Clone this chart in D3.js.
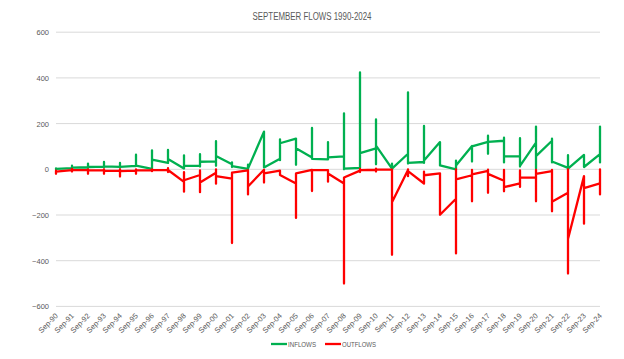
<!DOCTYPE html>
<html><head><meta charset="utf-8">
<script src="https://cdn.jsdelivr.net/npm/d3@7"></script>
<style>body{margin:0;background:#fff}svg{display:block}</style>
</head><body>
<svg id="c" width="624" height="359"></svg>
<script>
const chartTitle = "SEPTEMBER FLOWS 1990-2024";
const categories = ["Sep-90","Sep-91","Sep-92","Sep-93","Sep-94","Sep-95","Sep-96","Sep-97","Sep-98","Sep-99",
  "Sep-00","Sep-01","Sep-02","Sep-03","Sep-04","Sep-05","Sep-06","Sep-07","Sep-08","Sep-09",
  "Sep-10","Sep-11","Sep-12","Sep-13","Sep-14","Sep-15","Sep-16","Sep-17","Sep-18","Sep-19",
  "Sep-20","Sep-21","Sep-22","Sep-23","Sep-24"];
// readings within each September, in drawing order (all share the month's position)
const inflows = [
  [0,4,2],[5,16,4,7],[9,25,6,10],[12,32,8,13],[11,28,7,11],[15,64,14,16],[2,83,2,42],[28,85,28,45],
  [4,61,3,15],[15,66,12,33],[35,123,15,58],[22,30,10,14],[2,20,0,3],[165,8,8],[46,131,40,114],
  [134,20,92],[52,181,46,46],[43,119,43,52],[57,245,0,3],[6,424,6,71],[92,218,22,104],[3,25,-2,3],
  [68,337,25,28],[32,190,28,39],[119,17,17],[0,38,0,17],[102,34,100],[120,147,68,120],[125,138,30,57],
  [57,136,12,15],[117,187,4,58],[125,134,30,34],[6,62,0,3],[63,10,10],[66,187,30,66]
];
const outflows = [
  [-12,-6,-20,-10],[-4,2,-10,-4],[-4,0,-20,-5],[-5,0,-20,-6],[-7,0,-32,-8],[-6,0,-20,-5],[-5,0,-8,-4],
  [-3,5,-12,-3],[-55,-12,-98,-48],[-25,-5,-100,-58],[-15,0,-63,-30],[-41,-323,-15],[-5,-110,-75],
  [-2,-58,-18],[-6,-25,-25],[-62,-213,-18],[-3,-95,-4],[-4,-54,-18],[-62,-500,-36],[-6,2,-12,-4],
  [-2,3,-10,-1],[-1,-374,-144],[-3,0,-30,-8],[-62,-10,-62,-26],[-18,-199,-199],[-129,0,-368,-44],
  [-26,-3,-140,-22],[-7,-2,-103,-20],[-50,-3,-96,-78],[-62,-5,-77,-36],[-36,-3,-140,-20],
  [-8,-3,-184,-142],[-103,0,-456,-305],[-30,-238,-82],[-62,0,-110,-60]
];
const yTicks = [-600,-400,-200,0,200,400,600];
const seriesNames = ["INFLOWS","OUTFLOWS"];
const seriesColors = ["#00B050","#FF0000"];

const svg = d3.select("#c");
const x = d3.scalePoint().domain(categories).range([56,600]);
const y = d3.scaleLinear().domain([-600,600]).range([306.4,32.2]);
const txt = "#595959";

// gridlines
svg.append("g").selectAll("line").data(yTicks).join("line")
  .attr("x1",56).attr("x2",600).attr("y1",d=>y(d)).attr("y2",d=>y(d))
  .attr("stroke","#d9d9d9").attr("stroke-width",1);

// y axis
const ya = svg.append("g").attr("transform","translate(56,0)")
  .call(d3.axisLeft(y).tickValues(yTicks).tickSize(0).tickPadding(7));
ya.select(".domain").remove();
ya.selectAll("text").attr("fill",txt).style("font-family","Liberation Sans, Arial, sans-serif").style("font-size","7.5px");

// x axis
const xa = svg.append("g").attr("transform",`translate(0,${y(-600)})`)
  .call(d3.axisBottom(x).tickSize(0));
xa.select(".domain").remove();
xa.selectAll("text").attr("y",0).attr("dy",0)
  .attr("transform","translate(2,10) rotate(-45)")
  .style("text-anchor","end").attr("fill",txt)
  .style("font-family","Liberation Sans, Arial, sans-serif").style("font-size","7.5px");

// lines
const line = d3.line().x(d=>x(d.c)).y(d=>y(d.v));
[inflows,outflows].forEach((s,k)=>{
  const pts = s.flatMap((vals,i)=>vals.map(v=>({c:categories[i],v})));
  svg.append("path").datum(pts).attr("d",line).attr("fill","none")
    .attr("stroke",seriesColors[k]).attr("stroke-width",2.3)
    .attr("stroke-linejoin","round").attr("stroke-linecap","round");
});

// title
svg.append("text").attr("x",312).attr("y",20).attr("text-anchor","middle")
  .attr("fill",txt).style("font-family","Liberation Sans, Arial, sans-serif").style("font-size","10px")
  .attr("textLength",119).attr("lengthAdjust","spacingAndGlyphs").text(chartTitle);

// legend
const leg = [{x:271,w:28},{x:325,w:34}];
seriesNames.forEach((n,k)=>{
  const g = svg.append("g");
  g.append("line").attr("x1",leg[k].x).attr("x2",leg[k].x+16).attr("y1",344).attr("y2",344)
    .attr("stroke",seriesColors[k]).attr("stroke-width",2.3);
  g.append("text").attr("x",leg[k].x+17).attr("y",346.8).attr("fill",txt)
    .style("font-family","Liberation Sans, Arial, sans-serif").style("font-size","8px")
    .attr("textLength",leg[k].w).attr("lengthAdjust","spacingAndGlyphs").text(n);
});
</script>
</body></html>
